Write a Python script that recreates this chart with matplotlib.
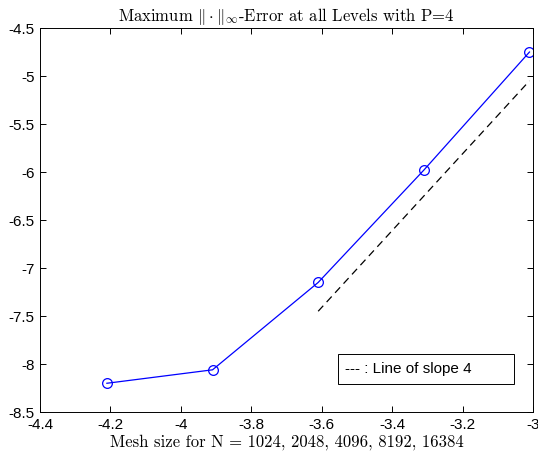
import numpy as np
import matplotlib.pyplot as plt
from matplotlib.patches import Rectangle

plt.rcParams['font.family'] = ['Liberation Sans', 'DejaVu Sans']
plt.rcParams['mathtext.fontset'] = 'cm'

N = [1024, 2048, 4096, 8192, 16384]
mesh = [-3.01, -3.31, -3.61, -3.91, -4.21]   # log10 du pas de maillage
erreur = [-4.75, -5.98, -7.15, -8.06, -8.20]

# ligne de pente 4
pente_x = [-3.61, -3.01]
pente_y = [-7.45, -5.05]

fig = plt.figure(figsize=(5.38, 4.63), dpi=100)
ax = fig.add_axes([0.0743, 0.110, 0.9164, 0.8295])

ax.plot(mesh, erreur, color='b', linewidth=0.9, marker='o', markersize=7,
        markerfacecolor='none', markeredgecolor='b', markeredgewidth=0.9)
ax.plot(pente_x, pente_y, color='k', linestyle=(0, (6, 4)), linewidth=0.9)

ax.set_xlim(-4.4, -3.0)
ax.set_ylim(-8.5, -4.5)
ax.set_xticks(np.arange(-4.4, -2.99, 0.2))
ax.set_yticks(np.arange(-8.5, -4.49, 0.5))
ax.set_xticklabels(['-4.4', '-4.2', '-4', '-3.8', '-3.6', '-3.4', '-3.2', '-3'])
ax.set_yticklabels(['-8.5', '-8', '-7.5', '-7', '-6.5', '-6', '-5.5', '-5', '-4.5'])
ax.tick_params(direction='in', top=True, right=True, labelsize=11, length=4,
               width=0.7, pad=4)
for s in ax.spines.values():
    s.set_linewidth(0.7)

ax.set_title(r'Maximum $\|\cdot\|_{\infty}$-Error at all Levels with P=4',
             fontsize=12, pad=5, family='cmr10')
ax.set_xlabel('Mesh size for N = ' + ', '.join(str(n) for n in N),
              fontsize=12, labelpad=2, family='cmr10')

ax.add_patch(Rectangle((0.604, 0.073), 0.357, 0.078, transform=ax.transAxes,
                       facecolor='white', edgecolor='k', linewidth=0.7))
ax.text(0.618, 0.112, '--- : Line of slope 4', transform=ax.transAxes,
        fontsize=11, va='center', ha='left')

fig.savefig('out.png', dpi=100)
